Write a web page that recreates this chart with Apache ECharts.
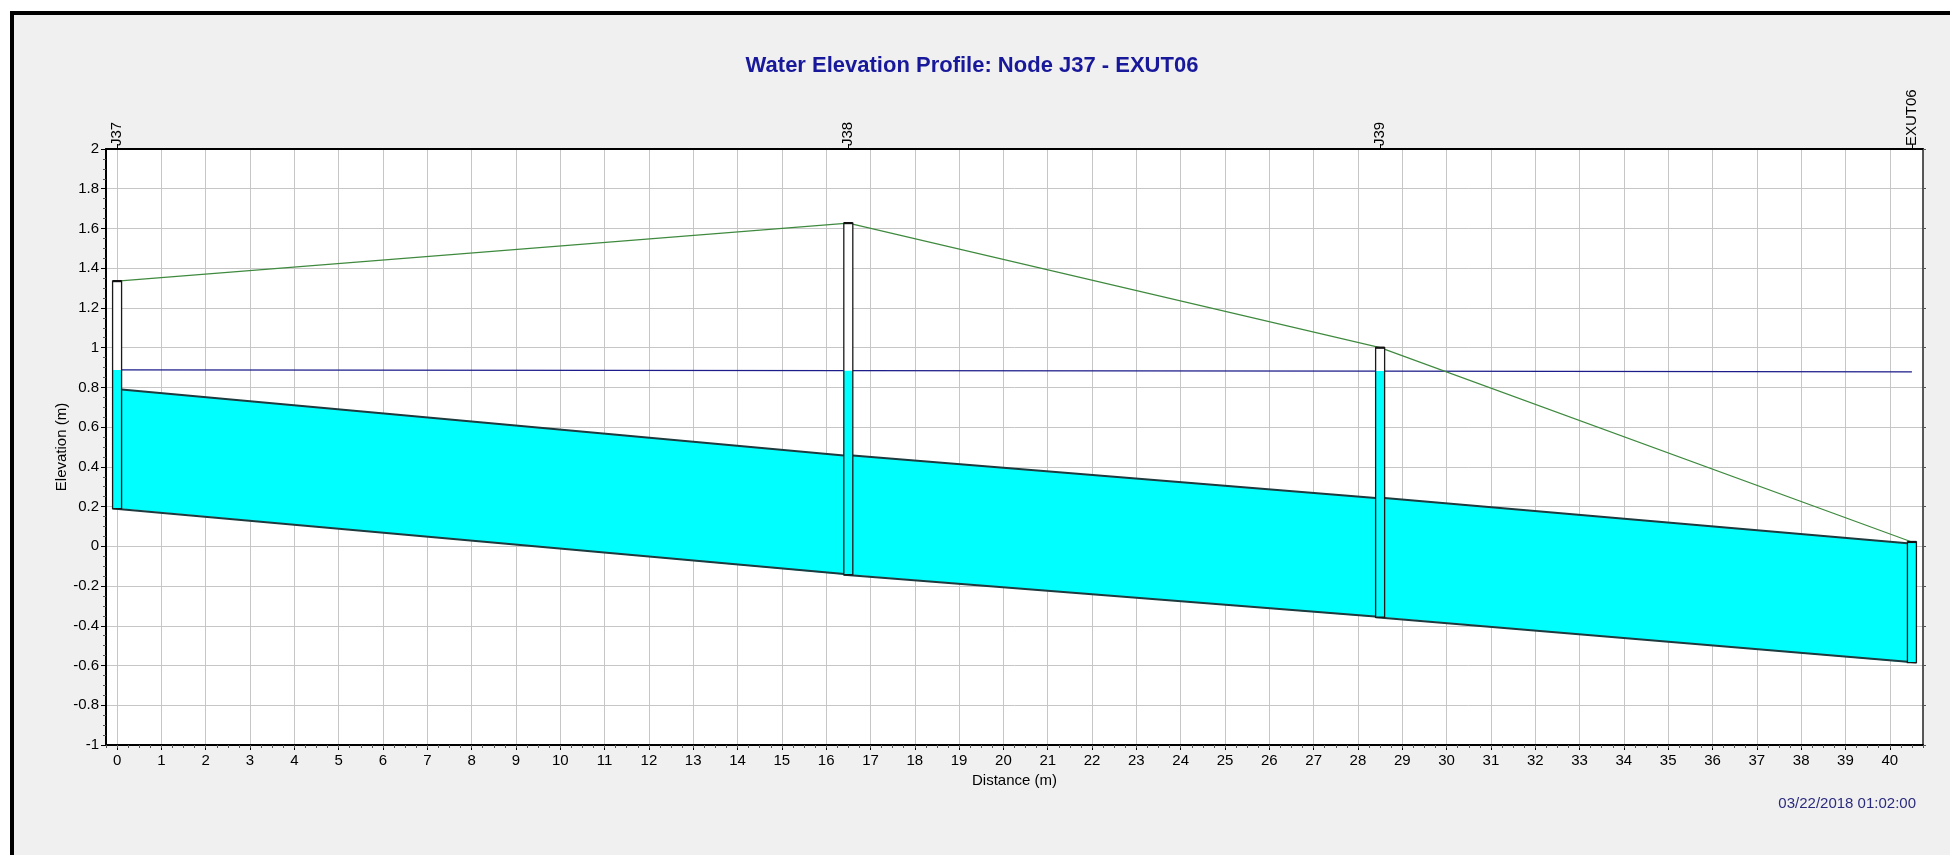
<!DOCTYPE html>
<html><head><meta charset="utf-8">
<script src="https://cdn.jsdelivr.net/npm/echarts@6/dist/echarts.min.js"></script>
<style>html,body{margin:0;padding:0;background:#fff}#c{width:1950px;height:855px}</style>
</head><body><div id="c"></div>
<script>
// ---- data ----
const titleText = 'Water Elevation Profile: Node J37 - EXUT06';
const timeStamp = '03/22/2018 01:02:00';
const xAxisName = 'Distance (m)';
const yAxisName = 'Elevation (m)';
const nodeNames = ['J37', 'J38', 'J39', 'EXUT06'];
const nodeX = [0, 16.5, 28.5, 40.5];            // distance of each node (m)
const nodeInvert = [0.19, -0.143, -0.357, -0.585]; // node invert elevation (m)
const nodeGround = [1.335, 1.627, 1.0, 0.022];    // node rim / ground elevation (m)
const nodeWater = [0.888, 0.884, 0.882, 0.878];   // water surface elevation (m)
const linkDiameter = [0.6, 0.6, 0.6];              // conduit depth between nodes (m)
const xTicks = [0,1,2,3,4,5,6,7,8,9,10,11,12,13,14,15,16,17,18,19,20,21,22,23,24,25,26,27,28,29,30,31,32,33,34,35,36,37,38,39,40];

// ---- styles ----
const FONT = "'Liberation Sans', Arial, sans-serif";
const HW = 4.5; // half width of node boxes in px
const PIPE = '#1d3a3e';
const CYAN = '#00ffff';

const linkData = linkDiameter.map((d, i) => [nodeX[i], nodeInvert[i], nodeX[i + 1], nodeInvert[i + 1], d]);
const nodeData = nodeX.map((x, i) => [x, nodeInvert[i], nodeGround[i], nodeWater[i]]);
const groundLine = nodeX.map((x, i) => [x, nodeGround[i]]);
const waterLine = nodeX.map((x, i) => [x, nodeWater[i]]);

const chart = echarts.init(document.getElementById('c'), null, {renderer: 'canvas'});
const xMin = -0.25, xMax = 40.75;

const option = {
  animation: false,
  backgroundColor: '#ffffff',
  graphic: [{
    type: 'rect', z: -10, silent: true,
    shape: {x: 12, y: 13, width: 2000, height: 900},
    style: {fill: '#f0f0f0', stroke: '#000', lineWidth: 4}
  }],
  title: [
    {text: titleText, left: 972, top: 55, textAlign: 'center', padding: 0,
     textStyle: {color: '#18189a', fontSize: 22, fontWeight: 'bold', fontFamily: FONT}},
    {text: timeStamp, right: 34, top: 796, padding: 0,
     textStyle: {color: '#2b2b7d', fontSize: 15, fontWeight: 'normal', fontFamily: FONT}}
  ],
  grid: {left: 106, right: 27, top: 149, bottom: 110, show: true, backgroundColor: '#ffffff', borderWidth: 0},
  xAxis: [
    {type: 'value', position: 'bottom', min: xMin, max: xMax,
     name: xAxisName, nameLocation: 'middle', nameGap: 28, nameMoveOverlap: false,
     nameTextStyle: {color: '#000', fontSize: 15, fontFamily: FONT},
     axisLine: {onZero: false, lineStyle: {color: '#000', width: 2}},
     axisTick: {customValues: xTicks, length: 5, lineStyle: {color: '#000'}},
     axisLabel: {customValues: xTicks, color: '#000', fontSize: 15, margin: 8, fontFamily: FONT},
     splitLine: {show: true, lineStyle: {color: '#c6c6c6', width: 1}}},
    {type: 'value', position: 'bottom', min: xMin, max: xMax, interval: 0.25,
     axisLine: {show: false, onZero: false},
     axisTick: {show: true, length: 3, lineStyle: {color: '#555'}},
     axisLabel: {show: false}, splitLine: {show: false}},
    {type: 'value', position: 'top', min: xMin, max: xMax,
     axisLine: {onZero: false, lineStyle: {color: '#000', width: 2}},
     axisTick: {customValues: nodeX, length: 5, lineStyle: {color: '#000'}},
     axisLabel: {customValues: nodeX, rotate: -90, margin: 3, color: '#000', fontSize: 15, fontFamily: FONT,
       formatter: v => { let b = 0; nodeX.forEach((x, i) => { if (Math.abs(x - v) < Math.abs(nodeX[b] - v)) b = i; }); return nodeNames[b]; }},
     splitLine: {show: false}}
  ],
  yAxis: [
    {type: 'value', position: 'left', min: -1, max: 2, interval: 0.2,
     name: yAxisName, nameLocation: 'middle', nameGap: 37, nameMoveOverlap: false,
     nameTextStyle: {color: '#000', fontSize: 15, fontFamily: FONT},
     axisLine: {show: true, onZero: false, lineStyle: {color: '#000', width: 2}},
     axisTick: {show: true, length: 5, lineStyle: {color: '#000'}},
     minorTick: {show: true, splitNumber: 4, length: 3, lineStyle: {color: '#555'}},
     axisLabel: {color: '#000', fontSize: 15, margin: 7, fontFamily: FONT, formatter: v => String(+(+v).toFixed(1))},
     splitLine: {show: true, lineStyle: {color: '#c6c6c6', width: 1}}},
    {type: 'value', position: 'right', min: -1, max: 2, interval: 0.2,
     axisLine: {show: true, onZero: false, lineStyle: {color: '#222', width: 1.5}},
     axisTick: {show: true, length: 3, lineStyle: {color: '#555'}},
     axisLabel: {show: false}, splitLine: {show: false}}
  ],
  series: [
    {type: 'custom', name: 'conduits', xAxisIndex: 0, yAxisIndex: 0, z: 2, silent: true,
     data: linkData, encode: {x: [0, 2], y: [1, 3]},
     renderItem: (params, api) => {
       const x1 = api.value(0), y1 = api.value(1), x2 = api.value(2), y2 = api.value(3), d = api.value(4);
       const a = api.coord([x1, y1 + d]), b = api.coord([x2, y2 + d]);
       const c = api.coord([x2, y2]), e = api.coord([x1, y1]);
       a[0] += HW; e[0] += HW; b[0] -= HW; c[0] -= HW;
       return {type: 'group', children: [
         {type: 'polygon', shape: {points: [a, b, c, e]}, style: {fill: CYAN}},
         {type: 'line', shape: {x1: a[0], y1: a[1], x2: b[0], y2: b[1]}, style: {stroke: PIPE, lineWidth: 2}},
         {type: 'line', shape: {x1: e[0] - 2 * HW, y1: e[1], x2: c[0] + 2 * HW, y2: c[1]}, style: {stroke: PIPE, lineWidth: 2}}
       ]};
     }},
    {type: 'line', name: 'water', xAxisIndex: 0, yAxisIndex: 0, z: 3, silent: true,
     data: waterLine, symbol: 'none', lineStyle: {color: '#1c1c8a', width: 1.3}},
    {type: 'line', name: 'ground', xAxisIndex: 0, yAxisIndex: 0, z: 3, silent: true,
     data: groundLine, symbol: 'none', lineStyle: {color: '#3f8a3f', width: 1.2}},
    {type: 'custom', name: 'nodes', xAxisIndex: 0, yAxisIndex: 0, z: 4, silent: true,
     data: nodeData, encode: {x: 0, y: [1, 2]},
     renderItem: (params, api) => {
       const x = api.value(0), inv = api.value(1), gr = api.value(2), wl = api.value(3);
       const top = api.coord([x, gr]), bot = api.coord([x, inv]), w = api.coord([x, Math.min(wl, gr)]);
       const left = top[0] - HW;
       return {type: 'group', children: [
         {type: 'rect', shape: {x: left, y: top[1], width: 2 * HW, height: bot[1] - top[1]}, style: {fill: '#ffffff'}},
         {type: 'rect', shape: {x: left, y: w[1], width: 2 * HW, height: bot[1] - w[1]}, style: {fill: CYAN}},
         {type: 'rect', shape: {x: left, y: top[1], width: 2 * HW, height: bot[1] - top[1]}, style: {fill: 'none', stroke: '#1a1a1a', lineWidth: 1.3}},
         {type: 'line', shape: {x1: left, y1: top[1], x2: left + 2 * HW, y2: top[1]}, style: {stroke: '#111', lineWidth: 2.2}}
       ]};
     }}
  ]
};
chart.setOption(option);
</script>
</body></html>
